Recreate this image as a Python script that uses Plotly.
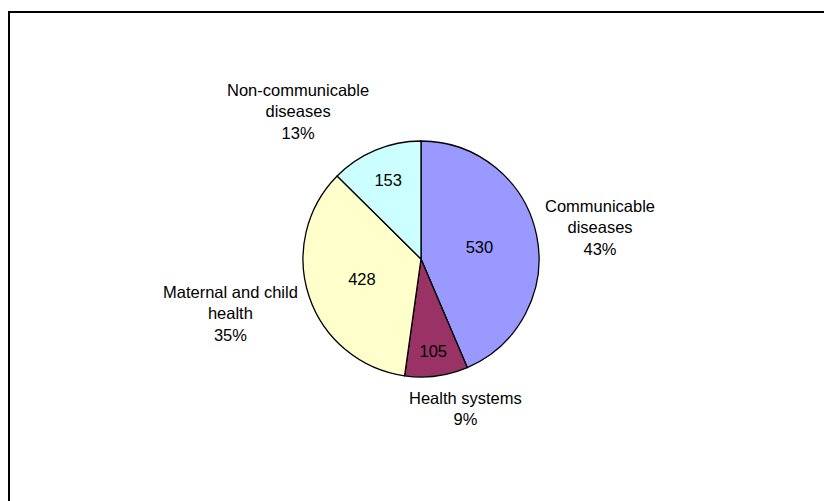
import plotly.graph_objects as go

categories = ["Communicable diseases", "Health systems", "Maternal and child health", "Non-communicable diseases"]
label_lines = ["Communicable<br>diseases", "Health systems", "Maternal and child<br>health", "Non-communicable<br>diseases"]
values = [530, 105, 428, 153]
percent_labels = ["43%", "9%", "35%", "13%"]
colors = ["#9999FF", "#993366", "#FFFFCC", "#CCFFFF"]

W, H = 824, 501
cx, cy, r = 421, 259, 118

fig = go.Figure(go.Pie(
    labels=categories,
    values=values,
    sort=False,
    direction="clockwise",
    rotation=0,
    marker=dict(colors=colors, line=dict(color="black", width=1.3)),
    textinfo="value",
    textposition="inside",
    insidetextorientation="horizontal",
    textfont=dict(family="Liberation Sans, Arial, sans-serif", size=16.5, color="black"),
    showlegend=False,
    hoverinfo="label+value+percent",
    domain=dict(x=[(cx - r) / W, (cx + r) / W], y=[(H - cy - r) / H, (H - cy + r) / H]),
))

label_pos = [(600, 227.7), (465, 408), (230.8, 313), (297.5, 111.7)]
for txt, pct, (px, py) in zip(label_lines, percent_labels, label_pos):
    fig.add_annotation(
        text=f"{txt}<br>{pct}", x=px / W, y=(H - py) / H, xref="paper", yref="paper",
        xanchor="center", yanchor="middle", showarrow=False, align="center",
        font=dict(family="Liberation Sans, Arial, sans-serif", size=16.5, color="black"),
    )

fig.add_shape(type="rect", xref="paper", yref="paper",
              x0=9 / W, x1=1.2, y0=-0.2, y1=(H - 12) / H,
              line=dict(color="black", width=2), fillcolor="rgba(0,0,0,0)")

fig.update_layout(
    width=W, height=H, margin=dict(l=0, r=0, t=0, b=0),
    paper_bgcolor="white", plot_bgcolor="white",
)

fig.write_html(
    "out.html",
    config={"displayModeBar": False},
    post_script="document.body.style.margin='0';document.body.style.overflow='hidden';",
)
